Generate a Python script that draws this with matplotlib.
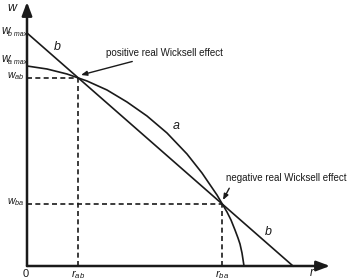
import matplotlib
matplotlib.use("Agg")
import matplotlib.pyplot as plt

plt.rcParams['font.family'] = ['Liberation Sans', 'DejaVu Sans']
plt.rcParams['mathtext.fontset'] = 'custom'
plt.rcParams['mathtext.rm'] = 'Liberation Sans'
plt.rcParams['mathtext.it'] = 'Liberation Sans:italic'

# technique a: wage-profit curve (r, w)
curve_a_r = [0, 20, 40, 60, 80, 100, 120, 140, 160, 175, 190, 200, 204, 208, 211, 213, 215, 217]
curve_a_w = [200, 197, 192, 185, 176, 164, 150, 133, 112, 93, 71, 54, 46, 36, 28, 22, 13, 0]
# technique b: straight line
line_b_r = [0, 266]
line_b_w = [233, 0]

# switch points
r_ab, w_ab = 51, 188
r_ba, w_ba = 195, 62

# intercepts on the w axis
w_bmax = 233
w_amax = 200

ink = '#1a1a1a'

fig = plt.figure(figsize=(3.5, 2.8), dpi=100)
ax = fig.add_axes([0, 0, 1, 1])
ax.set_xlim(-27, 323)
ax.set_ylim(-14, 266)
ax.axis('off')

# axes with arrow heads
head = '-|>,head_width=0.3,head_length=0.8'
ax.annotate('', xy=(0, 264), xytext=(0, 0),
            arrowprops=dict(arrowstyle=head, lw=1.8, color=ink, shrinkA=0, shrinkB=0))
ax.annotate('', xy=(303, 0), xytext=(0, 0),
            arrowprops=dict(arrowstyle=head, lw=1.8, color=ink, shrinkA=0, shrinkB=0))

ax.plot(curve_a_r, curve_a_w, color=ink, lw=1.2, solid_joinstyle='round')
ax.plot(line_b_r, line_b_w, color=ink, lw=1.2)

# dashed guides
dash = dict(color=ink, lw=1.2, linestyle=(0, (3, 2)))
ax.plot([0, r_ab], [w_ab, w_ab], **dash)
ax.plot([r_ab, r_ab], [0, w_ab], **dash)
ax.plot([0, r_ba], [w_ba, w_ba], **dash)
ax.plot([r_ba, r_ba], [0, w_ba], **dash)

fs = 7
ax.text(-15, 258, 'w', fontsize=9, style='italic', ha='center', va='center', color=ink)

# w max labels: letter plus small subscript
for w_val, sub in [(w_bmax, 'b max'), (w_amax + 5, 'a max')]:
    ax.text(-26, w_val + 2, 'w', fontsize=8.5, style='italic', ha='left', va='center', color=ink)
    ax.text(-19, w_val - 1, sub, fontsize=5, style='italic', ha='left', va='center', color=ink)

ax.text(-3, w_ab + 2, r'$w_{ab}$', fontsize=7.5, ha='right', va='center', color=ink)
ax.text(-3, w_ba + 2, r'$w_{ba}$', fontsize=7.5, ha='right', va='center', color=ink)
ax.text(-1, -8, '0', fontsize=fs + 1, ha='center', va='center', color=ink)
ax.text(r_ab, -9, r'$r_{ab}$', fontsize=8, ha='center', va='center', color=ink)
ax.text(r_ba, -9, r'$r_{ba}$', fontsize=8, ha='center', va='center', color=ink)
ax.text(285, -7.5, 'r', fontsize=8.5, style='italic', ha='center', va='center',
        color=ink, zorder=5)

ax.text(30, 219, 'b', fontsize=9, style='italic', ha='center', va='center', color=ink)
ax.text(241, 34, 'b', fontsize=9, style='italic', ha='center', va='center', color=ink)
ax.text(149, 140, 'a', fontsize=9, style='italic', ha='center', va='center', color=ink)

ax.annotate('positive real Wicksell effect', xy=(r_ab + 3, w_ab + 3), xytext=(79, 213),
            fontsize=fs, ha='left', va='center', color=ink,
            arrowprops=dict(arrowstyle='-|>,head_width=0.2,head_length=0.5',
                            color=ink, lw=1.0, shrinkA=2, shrinkB=0))
ax.annotate('negative real Wicksell effect', xy=(r_ba + 1, w_ba + 4), xytext=(199, 88),
            fontsize=fs, ha='left', va='center', color=ink,
            arrowprops=dict(arrowstyle='-|>,head_width=0.2,head_length=0.5',
                            color=ink, lw=1.0, shrinkA=2, shrinkB=0,
                            relpos=(0.05, 0)))

fig.savefig('out.png', dpi=100)
